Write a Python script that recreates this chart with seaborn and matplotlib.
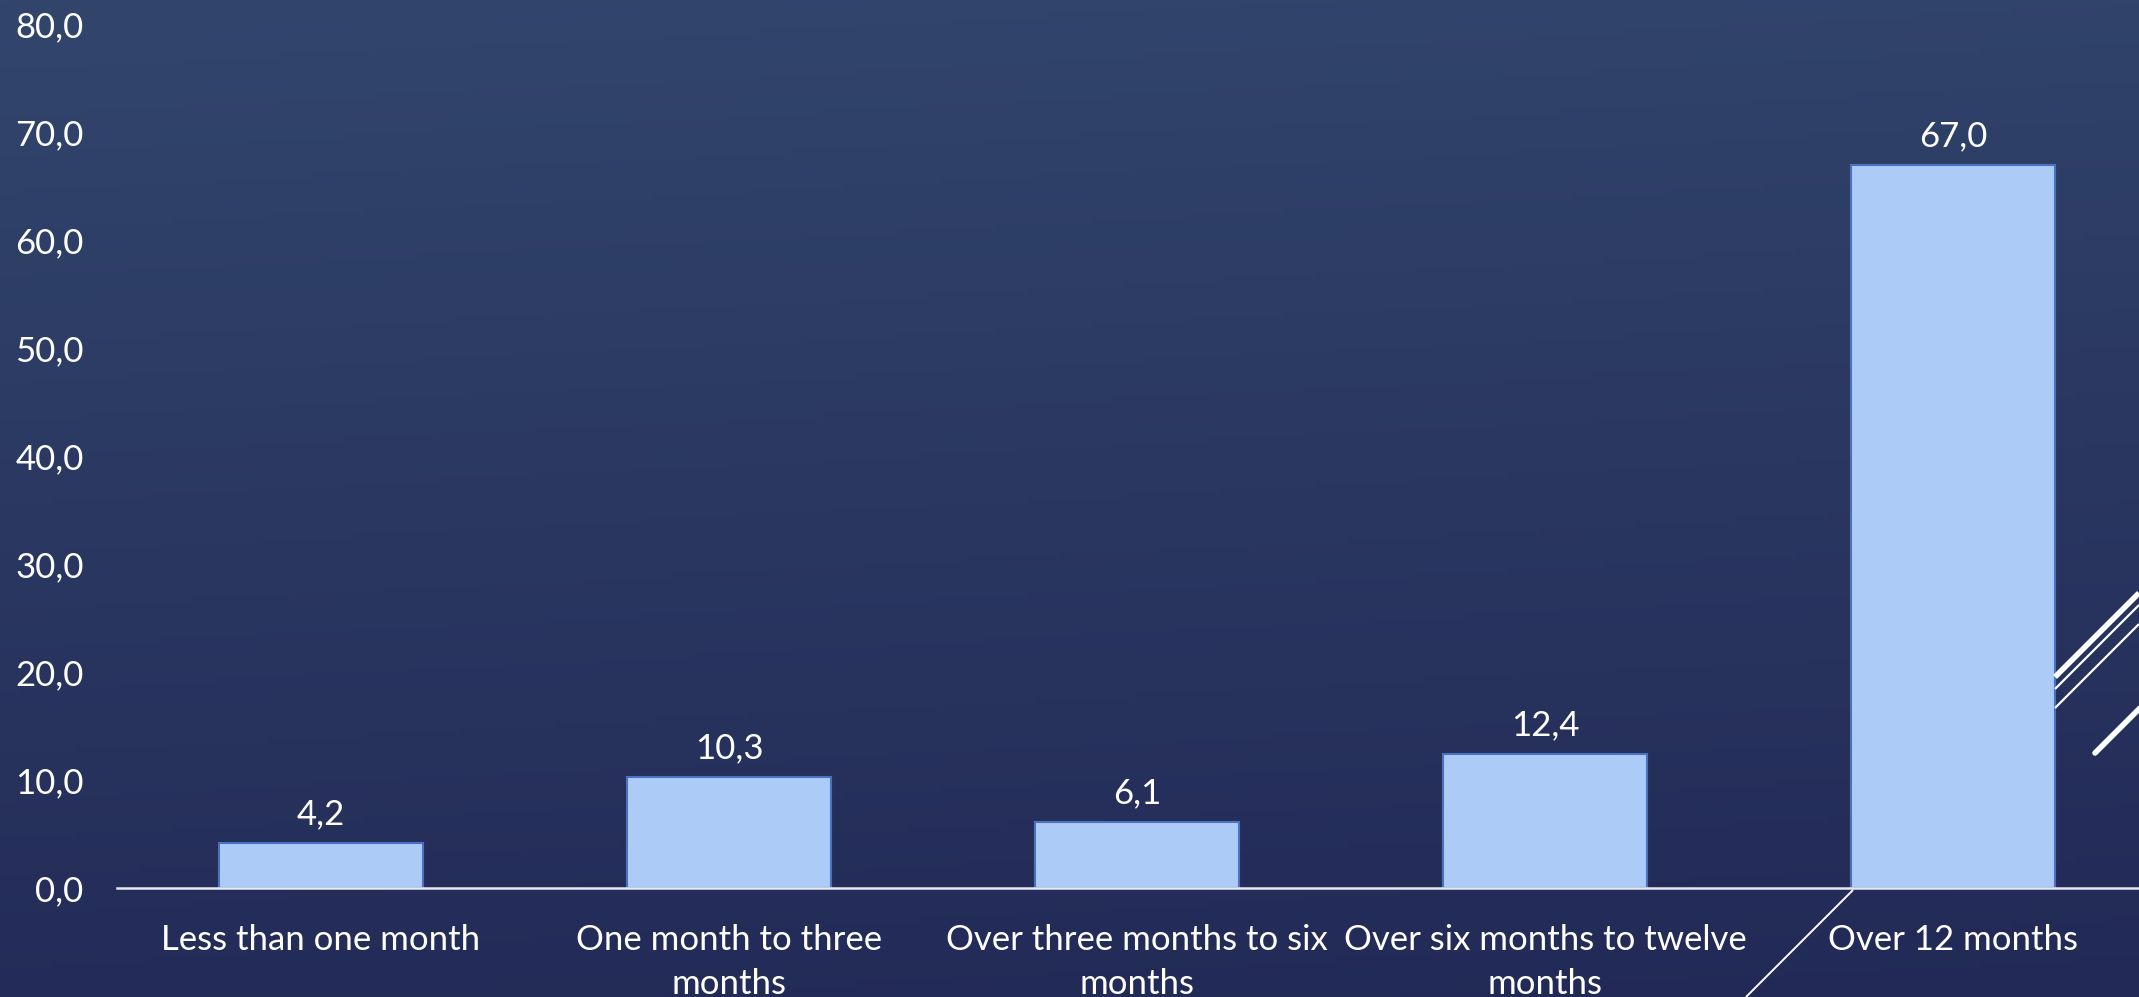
import numpy as np
import pandas as pd
import matplotlib
matplotlib.use("Agg")
import matplotlib.pyplot as plt
from matplotlib.lines import Line2D
import seaborn as sns

categories = ["Less than one month", "One month to three\nmonths",
              "Over three months to six\nmonths", "Over six months to twelve\nmonths",
              "Over 12 months"]
values = [4.2, 10.3, 6.1, 12.4, 67.0]
yticks = [0, 10, 20, 30, 40, 50, 60, 70, 80]

sns.set_theme(style="white")
plt.rcParams["font.family"] = ["Lato", "DejaVu Sans"]

W, H = 2139, 997
fig = plt.figure(figsize=(W / 100, H / 100), dpi=100)

# gradient background
bg = fig.add_axes([0, 0, 1, 1], zorder=-10)
top = np.array([50, 70, 108]) / 255
bot = np.array([34, 41, 86]) / 255
yy = np.linspace(0, 1, 200)[:, None]
xx = np.linspace(0, 1, 200)[None, :]
t = np.clip(yy * 0.9 + xx * 0.1, 0, 1)
img = top[None, None, :] * (1 - t[..., None]) + bot[None, None, :] * t[..., None]
bg.imshow(img, aspect="auto", extent=[0, 1, 0, 1], origin="upper")
bg.set_axis_off()

left = 117 / W
ax = fig.add_axes([left, 1 - 888 / H, 2040 / W, 863.5 / H])
ax.set_facecolor("none")
df = pd.DataFrame({"cat": categories, "val": values})
sns.barplot(data=df, x="cat", y="val", ax=ax, width=0.5, color="#ADCBF7",
            saturation=1, edgecolor="#4A72C0", linewidth=1.5, zorder=3)
ax.set_xlim(-0.5, 4.5)
ax.set_ylim(0, 80)
ax.set_yticks(yticks)
ax.set_yticklabels([f"{v:.1f}".replace(".", ",") for v in yticks])
ax.set_xlabel("")
ax.set_ylabel("")
for s in ["top", "right", "left"]:
    ax.spines[s].set_visible(False)
ax.spines["bottom"].set_color("#E6E8F0")
ax.spines["bottom"].set_linewidth(1.8)
ax.spines["bottom"].set_zorder(4)
ax.tick_params(axis="y", length=0, pad=24, labelsize=25, labelcolor="white")
ax.tick_params(axis="x", length=0, pad=26, labelsize=25, labelcolor="white")
for lbl in ax.get_xticklabels():
    lbl.set_linespacing(1.45)
ax.grid(False)

ax.bar_label(ax.containers[0], labels=[f"{v:.1f}".replace(".", ",") for v in values],
             padding=9, fontsize=25, color="white")

# decorative lines (slide ornaments)
def fl(x0, y0, x1, y1, lw, cap="butt"):
    fig.add_artist(Line2D([x0 / W, x1 / W], [1 - y0 / H, 1 - y1 / H], color="white",
                          lw=lw, solid_capstyle=cap, transform=fig.transFigure, zorder=1))

fl(2055, 677, 2139, 593, 4.0)
fl(2055, 689, 2139, 605, 1.6)
fl(2055, 708, 2139, 624, 1.6)
fl(2095, 753, 2141, 707, 4.0, cap="round")
fl(1853, 890, 1746, 997, 1.4)

fig.savefig("out.png", dpi=100)
